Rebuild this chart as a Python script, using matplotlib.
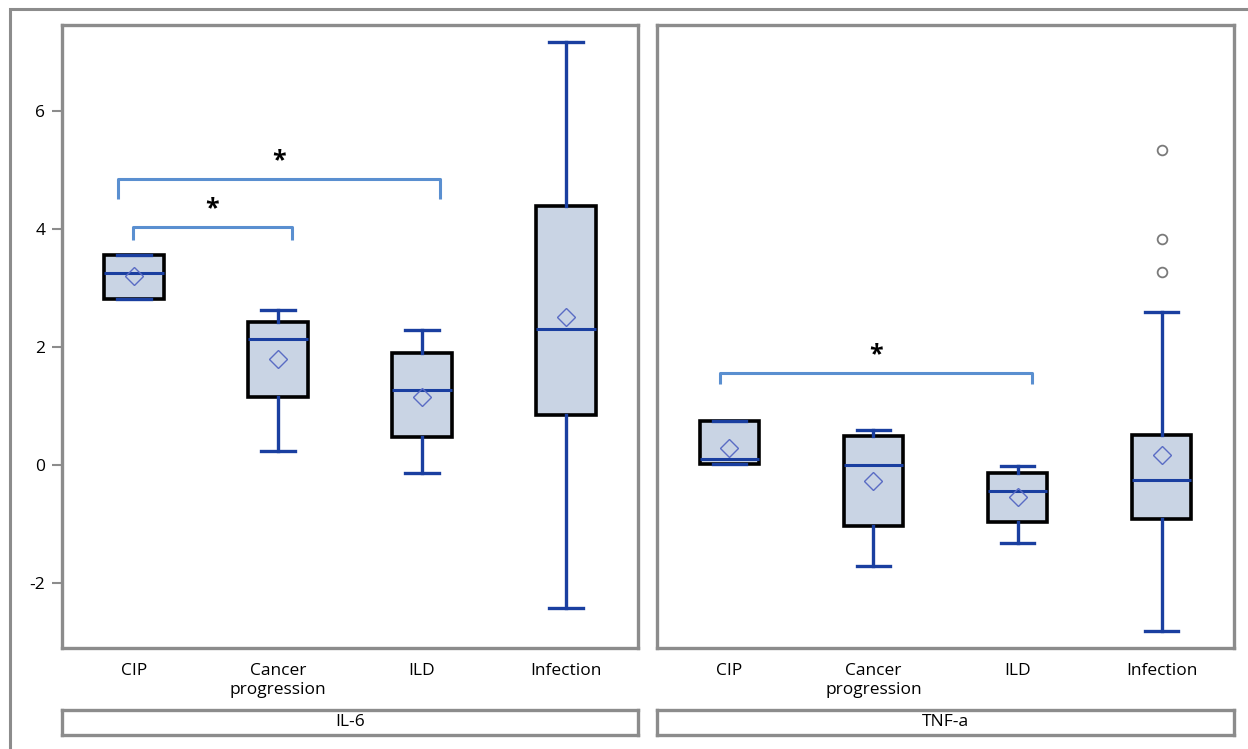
import matplotlib.pyplot as plt
from matplotlib.patches import Rectangle

plt.rcParams['font.family'] = ['Open Sans', 'DejaVu Sans']
plt.rcParams['axes.unicode_minus'] = False

groups = ['CIP', 'Cancer\nprogression', 'ILD', 'Infection']
panels = ['IL-6', 'TNF-a']

# box stats per panel: q1, median, q3, whisker low, whisker high, mean
il6_q1 = [2.81, 1.15, 0.47, 0.85]
il6_med = [3.25, 2.14, 1.27, 2.31]
il6_q3 = [3.56, 2.42, 1.90, 4.39]
il6_lo = [2.81, 0.24, -0.14, -2.42]
il6_hi = [3.56, 2.63, 2.29, 7.17]
il6_mean = [3.20, 1.80, 1.15, 2.51]
il6_out = [[], [], [], []]

tnf_q1 = [0.02, -1.03, -0.97, -0.92]
tnf_med = [0.10, 0.00, -0.44, -0.25]
tnf_q3 = [0.75, 0.49, -0.14, 0.51]
tnf_lo = [0.02, -1.71, -1.32, -2.81]
tnf_hi = [0.75, 0.59, -0.02, 2.59]
tnf_mean = [0.29, -0.27, -0.54, 0.17]
tnf_out = [[], [], [], [5.34, 3.83, 3.27]]

# significance brackets: (left x, right x, top y, leg y)
il6_brackets = [(0.89, 3.125, 4.85, 4.51), (0.99, 2.10, 4.03, 3.81)]
tnf_brackets = [(0.94, 3.10, 1.56, 1.37)]

fig = plt.figure(figsize=(12.48, 7.49), dpi=100)

grey = '#8c8c8c'
dark_blue = '#1a3fa0'

# outer frame
fig.add_artist(Rectangle((10 / 1248, -0.01), 1.05, 1 - 9 / 749 + 0.01,
                         transform=fig.transFigure, fill=False,
                         edgecolor=grey, lw=2.2))

lefts = [62 / 1248, 657 / 1248]
widths = [576 / 1248, 577 / 1248]
data = [
    (il6_q1, il6_med, il6_q3, il6_lo, il6_hi, il6_mean, il6_out, il6_brackets),
    (tnf_q1, tnf_med, tnf_q3, tnf_lo, tnf_hi, tnf_mean, tnf_out, tnf_brackets),
]

for k in range(2):
    ax = fig.add_axes([lefts[k], 1 - 648 / 749, widths[k], 623 / 749])
    q1, med, q3, lo, hi, mean, out, brackets = data[k]
    stats = []
    for i in range(4):
        stats.append(dict(q1=q1[i], med=med[i], q3=q3[i], whislo=lo[i],
                          whishi=hi[i], mean=mean[i], fliers=out[i]))
    ax.bxp(stats, positions=[1, 2, 3, 4], widths=0.41, showmeans=True,
           patch_artist=True,
           boxprops=dict(facecolor='#c9d4e4', edgecolor='black', lw=2.6),
           medianprops=dict(color=dark_blue, lw=2.2),
           whiskerprops=dict(color=dark_blue, lw=2.4),
           capprops=dict(color=dark_blue, lw=2.4, zorder=4),
           capwidths=0.23,
           meanprops=dict(marker='D', markerfacecolor='none',
                          markeredgecolor='#5a6cc4', markersize=9, mew=1.0),
           flierprops=dict(marker='o', markerfacecolor='none',
                           markeredgecolor='#7a7a7a', markersize=7, mew=1.3))
    for (x0, x1, ytop, yleg) in brackets:
        ax.plot([x0, x0, x1, x1], [yleg, ytop, ytop, yleg], color='#5a8fd0',
                lw=2.2, solid_joinstyle='round', solid_capstyle='butt')
        ax.text((x0 + x1) / 2, ytop + 0.1, '*', ha='center', va='bottom',
                fontsize=18, fontweight='bold', color='black')
    ax.set_xlim(0.5, 4.5)
    ax.set_ylim(-3.10, 7.46)
    ax.set_xticks([1, 2, 3, 4])
    ax.set_xticklabels(groups, fontsize=12.5, linespacing=1.2)
    ax.tick_params(axis='x', length=0, pad=11)
    if k == 0:
        ax.set_yticks([-2, 0, 2, 4, 6])
        ax.tick_params(axis='y', length=7, width=1.5, color=grey,
                       labelsize=12.5, pad=5)
    else:
        ax.set_yticks([])
    for s in ax.spines.values():
        s.set_color(grey)
        s.set_linewidth(2.4)

    sax = fig.add_axes([lefts[k], 1 - 735 / 749, widths[k], 25 / 749])
    sax.set_xticks([])
    sax.set_yticks([])
    for s in sax.spines.values():
        s.set_color(grey)
        s.set_linewidth(2.4)
    sax.text(0.5, 0.5, panels[k], ha='center', va='center', fontsize=12.5,
             transform=sax.transAxes)

fig.savefig('out.png', dpi=100)
